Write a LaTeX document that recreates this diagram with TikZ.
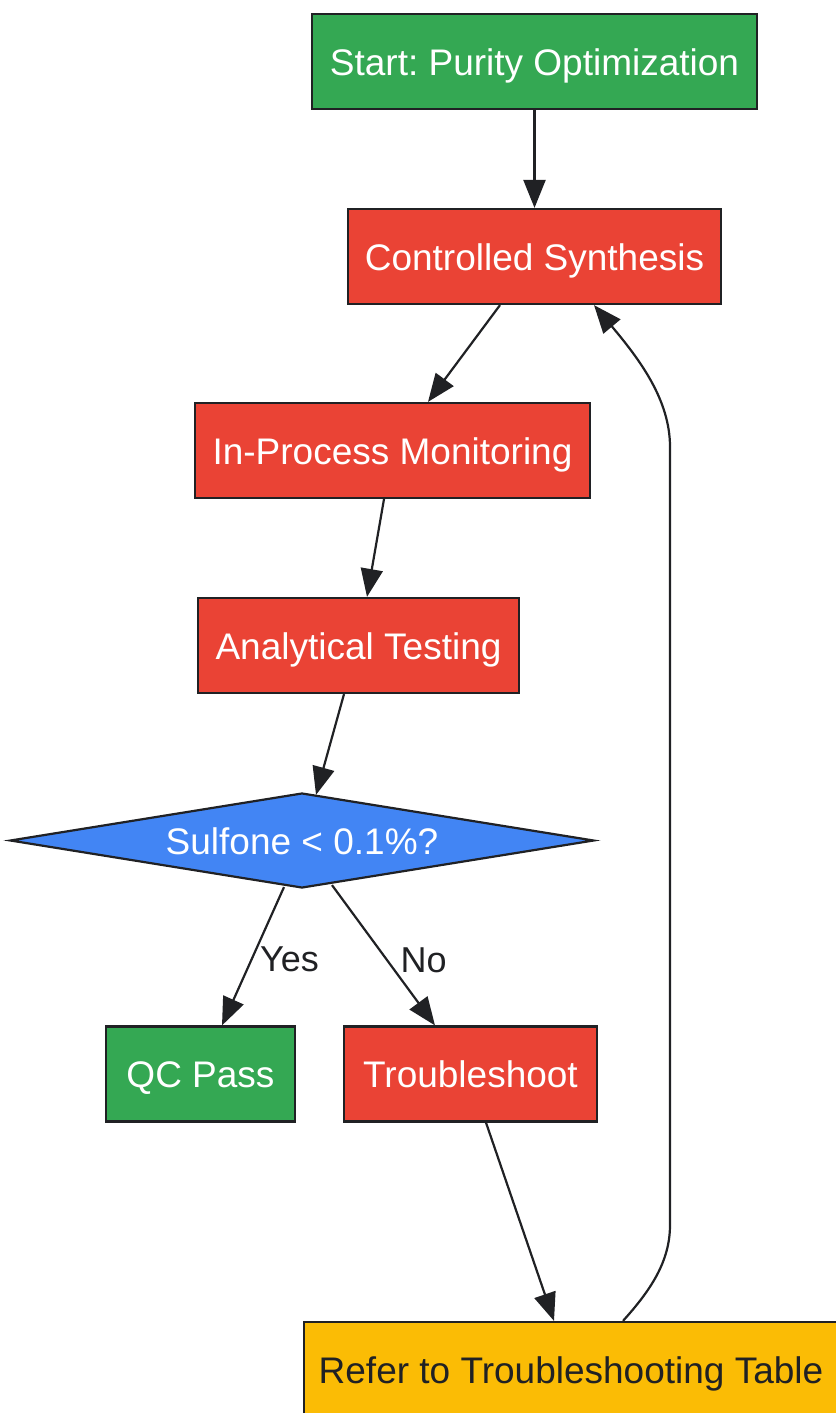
\documentclass[tikz,border=0pt]{standalone}
\usepackage{fontspec}
\setmainfont{Liberation Sans}
\frenchspacing
\usetikzlibrary{shapes.geometric,arrows.meta}
\definecolor{gg}{HTML}{34A853}
\definecolor{rr}{HTML}{EA4335}
\definecolor{bb}{HTML}{4285F4}
\definecolor{yy}{HTML}{FBBC05}
\definecolor{ink}{HTML}{202124}
\tikzset{
  box/.style={rectangle, draw=ink, line width=2.2pt, text=white, inner sep=0pt, minimum height=95pt,
    text height=27pt, text depth=0pt, font=\fontsize{37}{40}\selectfont},
  greenbox/.style={box, fill=gg},
  redbox/.style={box, fill=rr},
  decision/.style={diamond, draw=ink, line width=2.2pt, fill=bb, text=white, inner sep=0pt, aspect=6,
    text height=27pt, text depth=0pt,
    minimum width=584pt, minimum height=95pt, font=\fontsize{37}{40}\selectfont},
  conn/.style={draw=ink, line width=2.2pt, -{Triangle[length=28pt,width=22pt]}},
  lbl/.style={text=ink, font=\fontsize{36}{40}\selectfont, inner sep=0pt}
}
\begin{document}
\begin{tikzpicture}[x=1pt,y=-1pt]
\useasboundingbox (0,0) rectangle (835,1413);
\node[greenbox, minimum width=445pt] (start) at (534.5,61.5) {Start: Purity Optimization};
\node[redbox, minimum width=373pt] (cs) at (534.5,256.5) {Controlled Synthesis};
\node[redbox, minimum width=395pt] (ipm) at (392.5,450.5) {In-Process Monitoring};
\node[redbox, minimum width=321pt] (at) at (358.5,645.5) {Analytical Testing};
\node[decision] (dia) at (302,840.5) {Sulfone < 0.1\%?};
\node[greenbox, minimum width=189pt] (qc) at (200.5,1074) {QC Pass};
\node[redbox, minimum width=253pt] (ts) at (470.5,1074) {Troubleshoot};
\node[box, fill=yy, text=ink, minimum width=534pt, minimum height=96pt] (ref) at (571,1370) {Refer to Troubleshooting Table};

\draw[conn] (start.south) -- (cs.north);
\draw[conn] ([xshift=-34.5pt]cs.south) -- ([xshift=35.5pt]ipm.north);
\draw[conn] ([xshift=-8.5pt]ipm.south) -- ([xshift=8.5pt]at.north);
\draw[conn] ([xshift=-14.5pt]at.south) -- ([xshift=14pt,yshift=-3pt]dia.north);
\draw[conn] ([xshift=-18pt,yshift=2pt]dia.south) -- node[lbl, right, xshift=6pt, yshift=-3pt] {Yes} ([xshift=21.5pt]qc.north);
\draw[conn] ([xshift=30pt,yshift=4pt]dia.south) -- node[lbl, right, xshift=16pt, yshift=-5pt] {No} ([xshift=-35.5pt]ts.north);
\draw[conn] ([xshift=15.5pt]ts.south) -- ([xshift=-17pt]ref.north);
\draw[conn] ([xshift=52pt]ref.north) .. controls +(27,-30) and (670,1262) .. (670,1225)
  -- (670,447) .. controls (670,400) and (640,360) .. ([xshift=59.5pt]cs.south);
\end{tikzpicture}
\end{document}
